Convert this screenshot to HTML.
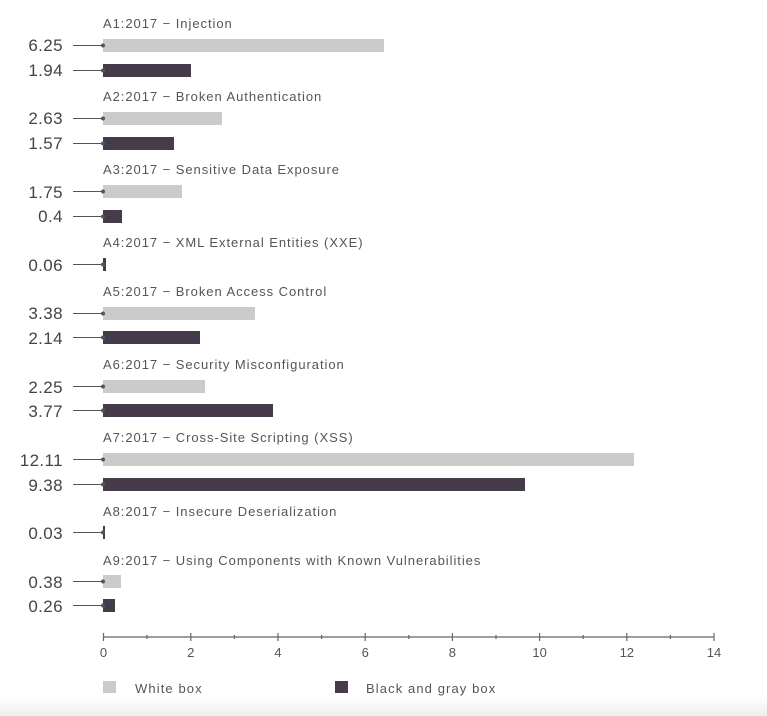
<!DOCTYPE html>
<html><head><style>
html,body{margin:0;padding:0;background:#fff;}
svg{display:block;font-family:"Liberation Sans",sans-serif;}
</style></head><body>
<svg width="767" height="716" viewBox="0 0 767 716" xmlns="http://www.w3.org/2000/svg">
<defs><linearGradient id="g" x1="0" y1="0" x2="0" y2="1"><stop offset="0" stop-color="#fff"/><stop offset="1" stop-color="#eeeeee"/></linearGradient></defs>
<rect x="0" y="696" width="767" height="20" fill="url(#g)"/>
<g font-size="13" fill="#555" letter-spacing="0.95">
<text x="103" y="28">A1:2017 − Injection</text>
<text x="103" y="101">A2:2017 − Broken Authentication</text>
<text x="103" y="174">A3:2017 − Sensitive Data Exposure</text>
<text x="103" y="247">A4:2017 − XML External Entities (XXE)</text>
<text x="103" y="296">A5:2017 − Broken Access Control</text>
<text x="103" y="369">A6:2017 − Security Misconfiguration</text>
<text x="103" y="442">A7:2017 − Cross-Site Scripting (XSS)</text>
<text x="103" y="516">A8:2017 − Insecure Deserialization</text>
<text x="103" y="565">A9:2017 − Using Components with Known Vulnerabilities</text>
</g>
<g font-size="17" fill="#444" text-anchor="end" letter-spacing="0.4">
<text x="63" y="51">6.25</text><text x="63" y="76">1.94</text>
<text x="63" y="124">2.63</text><text x="63" y="149">1.57</text>
<text x="63" y="198">1.75</text><text x="63" y="222">0.4</text>
<text x="63" y="271">0.06</text>
<text x="63" y="319">3.38</text><text x="63" y="344">2.14</text>
<text x="63" y="393">2.25</text><text x="63" y="417">3.77</text>
<text x="63" y="466">12.11</text><text x="63" y="491">9.38</text>
<text x="63" y="539">0.03</text>
<text x="63" y="588">0.38</text><text x="63" y="612">0.26</text>
</g>
<g>
<rect x="103" y="39" width="281" height="13" fill="#cccacb"/>
<rect x="103" y="64" width="88" height="13" fill="#463b4a"/>
<rect x="103" y="112" width="119" height="13" fill="#cccacb"/>
<rect x="103" y="137" width="71" height="13" fill="#463b4a"/>
<rect x="103" y="185" width="79" height="13" fill="#cccacb"/>
<rect x="103" y="210" width="19" height="13" fill="#463b4a"/>
<rect x="103" y="258" width="3" height="13" fill="#463b4a"/>
<rect x="103" y="307" width="152" height="13" fill="#cccacb"/>
<rect x="103" y="331" width="97" height="13" fill="#463b4a"/>
<rect x="103" y="380" width="102" height="13" fill="#cccacb"/>
<rect x="103" y="404" width="170" height="13" fill="#463b4a"/>
<rect x="103" y="453" width="531" height="13" fill="#cccacb"/>
<rect x="103" y="478" width="422" height="13" fill="#463b4a"/>
<rect x="103" y="526" width="2" height="13" fill="#463b4a"/>
<rect x="103" y="575" width="18" height="13" fill="#cccacb"/>
<rect x="103" y="599" width="12" height="13" fill="#463b4a"/>
</g>
<g stroke="#555" stroke-width="1" fill="#555">
<line x1="73" y1="45.5" x2="103" y2="45.5"/><circle cx="103" cy="45.5" r="2" stroke="none"/>
<line x1="73" y1="70.5" x2="103" y2="70.5"/><circle cx="103" cy="70.5" r="2" stroke="none"/>
<line x1="73" y1="118.5" x2="103" y2="118.5"/><circle cx="103" cy="118.5" r="2" stroke="none"/>
<line x1="73" y1="143.5" x2="103" y2="143.5"/><circle cx="103" cy="143.5" r="2" stroke="none"/>
<line x1="73" y1="191.5" x2="103" y2="191.5"/><circle cx="103" cy="191.5" r="2" stroke="none"/>
<line x1="73" y1="216.5" x2="103" y2="216.5"/><circle cx="103" cy="216.5" r="2" stroke="none"/>
<line x1="73" y1="264.5" x2="103" y2="264.5"/><circle cx="103" cy="264.5" r="2" stroke="none"/>
<line x1="73" y1="313.5" x2="103" y2="313.5"/><circle cx="103" cy="313.5" r="2" stroke="none"/>
<line x1="73" y1="337.5" x2="103" y2="337.5"/><circle cx="103" cy="337.5" r="2" stroke="none"/>
<line x1="73" y1="386.5" x2="103" y2="386.5"/><circle cx="103" cy="386.5" r="2" stroke="none"/>
<line x1="73" y1="410.5" x2="103" y2="410.5"/><circle cx="103" cy="410.5" r="2" stroke="none"/>
<line x1="73" y1="459.5" x2="103" y2="459.5"/><circle cx="103" cy="459.5" r="2" stroke="none"/>
<line x1="73" y1="484.5" x2="103" y2="484.5"/><circle cx="103" cy="484.5" r="2" stroke="none"/>
<line x1="73" y1="532.5" x2="103" y2="532.5"/><circle cx="103" cy="532.5" r="2" stroke="none"/>
<line x1="73" y1="581.5" x2="103" y2="581.5"/><circle cx="103" cy="581.5" r="2" stroke="none"/>
<line x1="73" y1="605.5" x2="103" y2="605.5"/><circle cx="103" cy="605.5" r="2" stroke="none"/>
</g>
<g stroke="#666" stroke-width="1.2">
<line x1="103" y1="637" x2="714" y2="637"/>
<line x1="103.5" y1="633" x2="103.5" y2="641"/><line x1="147" y1="635" x2="147" y2="639"/>
<line x1="190.8" y1="633" x2="190.8" y2="641"/><line x1="234.4" y1="635" x2="234.4" y2="639"/>
<line x1="278" y1="633" x2="278" y2="641"/><line x1="321.6" y1="635" x2="321.6" y2="639"/>
<line x1="365.2" y1="633" x2="365.2" y2="641"/><line x1="408.8" y1="635" x2="408.8" y2="639"/>
<line x1="452.4" y1="633" x2="452.4" y2="641"/><line x1="496" y1="635" x2="496" y2="639"/>
<line x1="539.6" y1="633" x2="539.6" y2="641"/><line x1="583.2" y1="635" x2="583.2" y2="639"/>
<line x1="626.8" y1="633" x2="626.8" y2="641"/><line x1="670.4" y1="635" x2="670.4" y2="639"/>
<line x1="714" y1="633" x2="714" y2="641"/>
</g>
<g font-size="13" fill="#555" text-anchor="middle">
<text x="103.5" y="657">0</text><text x="190.8" y="657">2</text><text x="278" y="657">4</text>
<text x="365.2" y="657">6</text><text x="452.4" y="657">8</text><text x="539.6" y="657">10</text>
<text x="626.8" y="657">12</text><text x="714" y="657">14</text>
</g>
<rect x="103" y="681" width="13" height="12" fill="#cccacb"/>
<text x="135" y="693" font-size="13" fill="#555" letter-spacing="1.1">White box</text>
<rect x="335" y="681" width="13" height="12" fill="#463b4a"/>
<text x="366" y="693" font-size="13" fill="#555" letter-spacing="1.1">Black and gray box</text>
</svg>
</body></html>
